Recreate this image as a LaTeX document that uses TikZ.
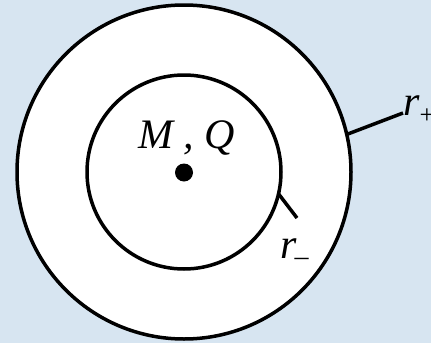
\documentclass[tikz,border=0pt]{standalone}
\usepackage{fontspec}
\setmainfont{Liberation Serif}
\definecolor{bgblue}{RGB}{215,229,241}
\begin{document}
\begin{tikzpicture}[x=1pt,y=-1pt,
  ring/.style={circle,draw=black,line width=3.5pt,fill=white,inner sep=0pt,outer sep=0pt},
  wire/.style={draw=black,line width=3.5pt},
  lbl/.style={inner sep=0pt,font=\fontsize{42}{42}\selectfont\itshape}]
\fill[bgblue] (0,0) rectangle (431,343);
\useasboundingbox (0,0) rectangle (431,343);
\node[ring,minimum size=334pt] (outer) at (184,172) {};
\node[ring,minimum size=194pt] (inner) at (184,172) {};
\node[circle,fill=black,inner sep=0pt,minimum size=18pt] (dot) at (184,172.5) {};
\node[lbl,anchor=base] (mq) at (186.5,148) {M , Q};
\coordinate (pend) at (403,113);
\coordinate (mend) at (297,218);
\draw[wire] (outer.13.4) -- (pend);
\draw[wire] (inner.-13.2) -- (mend);
\node[lbl,anchor=base west] (rp) at (403,115) {r\raisebox{-0.2em}{\fontsize{26}{26}\selectfont\upshape +}};
\node[lbl,anchor=base west] (rm) at (280,258) {r\hspace{-2pt}\raisebox{-0.17em}{\fontsize{28}{28}\selectfont\upshape –}};
\end{tikzpicture}
\end{document}
